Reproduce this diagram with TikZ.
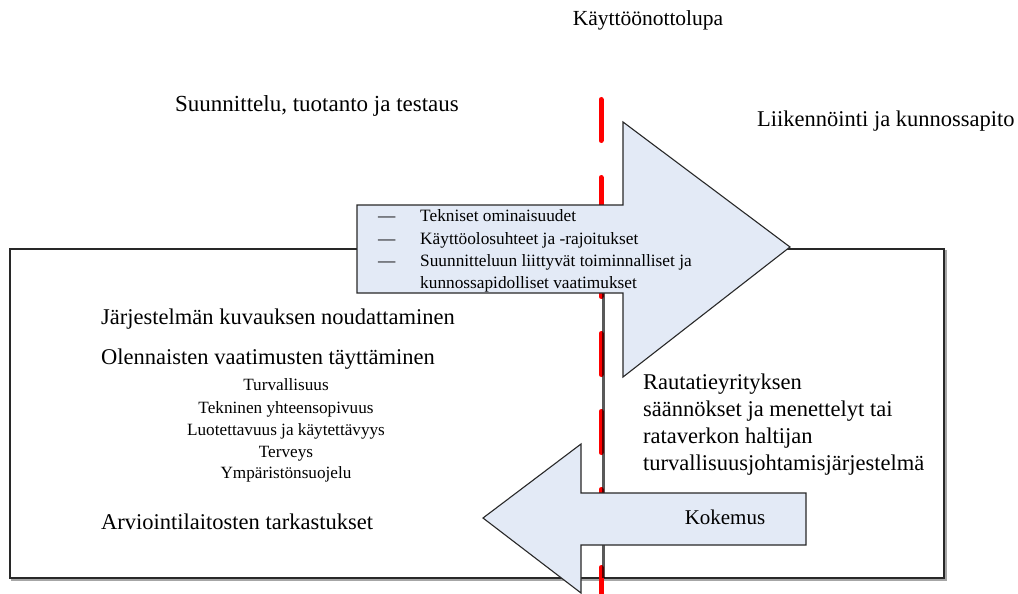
\documentclass[tikz,border=0pt]{standalone}
\usepackage{fontspec}
\setmainfont{Liberation Serif}
\definecolor{arrowfill}{RGB}{227,234,246}
\definecolor{edge}{RGB}{40,40,40}
\begin{document}
\begin{tikzpicture}[x=1pt,y=-1pt,
  bigtxt/.style={font=\fontsize{22.5}{26}\selectfont, inner sep=0pt, anchor=base west},
  smalltxt/.style={font=\fontsize{17.3}{20}\selectfont, inner sep=0pt, anchor=base west},
  listtxt/.style={font=\fontsize{17.2}{20}\selectfont, inner sep=0pt, anchor=base},
  arrowshape/.style={fill=arrowfill, draw=edge, line width=1.1pt, line join=miter}]
\useasboundingbox (0,0) rectangle (1018,594);
% frame with shadow
\draw[gray!70, line width=2pt] (12,251) rectangle (946,580);
\draw[edge, line width=1.1pt, fill=white] (10,249) rectangle (944,578);
% red dashed milestone line
\draw[red, line width=5pt, line cap=round, dash pattern=on 41pt off 37pt, dash phase=0pt] (601,99.5) -- (601,594);
% gray line inside the frame
\draw[black, opacity=0.65, line width=3pt] (603,249) -- (603,578);
% right arrow
\draw[arrowshape] (357,205) -- (623,205) -- (623,122) -- (790,247) -- (623,377) -- (623,293) -- (357,293) -- cycle;
% left arrow
\draw[arrowshape] (806,493) -- (581,493) -- (581,444) -- (483,518) -- (581,593) -- (581,545) -- (806,545) -- cycle;
% texts
\node[font=\fontsize{21.5}{25}\selectfont, inner sep=0pt, anchor=base] (permit) at (648,26) {Käyttöönottolupa};
\node[font=\fontsize{23}{26}\selectfont, inner sep=0pt, anchor=base west] (design) at (175,111) {Suunnittelu, tuotanto ja testaus};
\node[bigtxt] (ops) at (757,126) {Liikennöinti ja kunnossapito};
\node[smalltxt] (d1) at (378,221) {—};
\node[smalltxt] (d2) at (378,244) {—};
\node[smalltxt] (d3) at (378,266) {—};
\node[smalltxt] (l1) at (420,221) {Tekniset ominaisuudet};
\node[smalltxt] (l2) at (420,244) {Käyttöolosuhteet ja -rajoitukset};
\node[smalltxt] (l3) at (420,266) {Suunnitteluun liittyvät toiminnalliset ja};
\node[smalltxt] (l4) at (420,288) {kunnossapidolliset vaatimukset};
\node[bigtxt] (sysdesc) at (101,324) {Järjestelmän kuvauksen noudattaminen};
\node[bigtxt] (essreq) at (101,364) {Olennaisten vaatimusten täyttäminen};
\node[listtxt] (r1) at (286,390) {Turvallisuus};
\node[listtxt] (r2) at (286,413) {Tekninen yhteensopivuus};
\node[listtxt] (r3) at (286,435) {Luotettavuus ja käytettävyys};
\node[listtxt] (r4) at (286,457) {Terveys};
\node[listtxt] (r5) at (286,478) {Ympäristönsuojelu};
\node[bigtxt] (nobo) at (101,529) {Arviointilaitosten tarkastukset};
\node[bigtxt] (ru1) at (643,389) {Rautatieyrityksen};
\node[bigtxt] (ru2) at (643,416) {säännökset ja menettelyt tai};
\node[bigtxt] (ru3) at (643,443) {rataverkon haltijan};
\node[bigtxt] (ru4) at (643,470) {turvallisuusjohtamisjärjestelmä};
\node[font=\fontsize{21}{25}\selectfont, inner sep=0pt, anchor=base] (exp) at (725,524) {Kokemus};
\end{tikzpicture}
\end{document}
